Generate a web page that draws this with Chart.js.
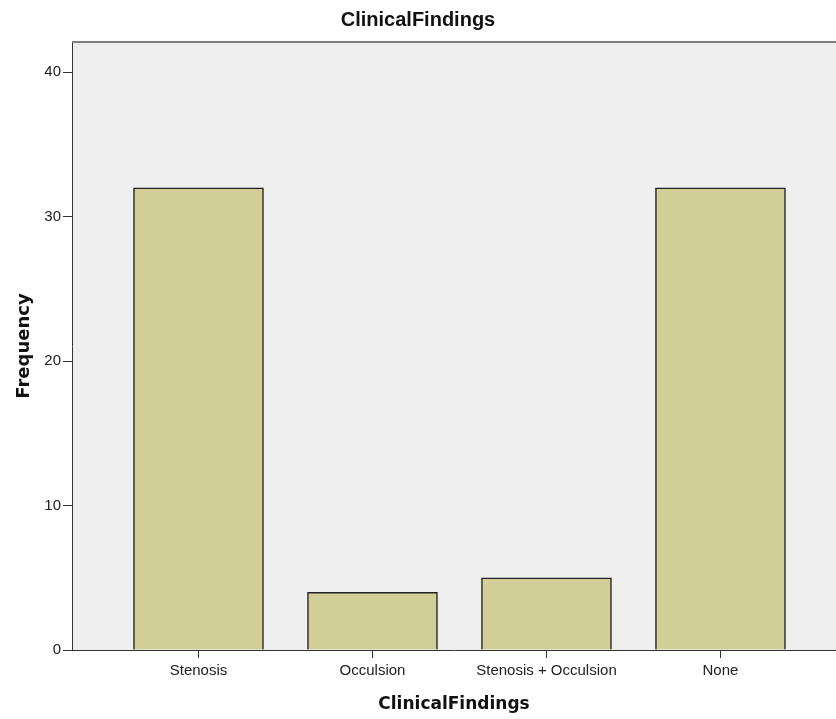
<!DOCTYPE html>
<html>
<head>
<meta charset="utf-8">
<script src="https://cdn.jsdelivr.net/npm/chart.js@4.4.1/dist/chart.umd.min.js"></script>
<style>
  body { margin: 0; background: #fff; }
  #wrap { width: 836px; height: 719px; }
</style>
</head>
<body>
<div id="wrap"><canvas id="findingsChart"></canvas></div>
<script>
const categories = ['Stenosis', 'Occulsion', 'Stenosis + Occulsion', 'None'];
const frequencies = [32, 4, 5, 32];
const yTicks = [0, 10, 20, 30, 40];

const plotFrame = {
  id: 'plotFrame',
  beforeDraw(chart) {
    const { ctx, chartArea: a } = chart;
    ctx.save();
    ctx.fillStyle = '#efefef';
    ctx.fillRect(a.left, a.top, a.right - a.left, a.bottom - a.top);
    ctx.restore();
  },
  afterDraw(chart) {
    const { ctx, chartArea: a } = chart;
    ctx.save();
    ctx.strokeStyle = '#7f7f7f';
    ctx.lineWidth = 2;
    ctx.beginPath();
    ctx.moveTo(a.left, a.top);
    ctx.lineTo(a.right, a.top);
    ctx.stroke();
    ctx.restore();
  }
};

const ctx = document.getElementById('findingsChart').getContext('2d');
new Chart(ctx, {
  type: 'bar',
  data: {
    datasets: [{
      data: categories.map((c, i) => ({ x: i, y: frequencies[i] })),
      backgroundColor: '#d2ce97',
      borderColor: '#222222',
      borderWidth: 1.5,
      barThickness: 130
    }]
  },
  options: {
    responsive: true,
    maintainAspectRatio: false,
    animation: false,
    layout: { padding: 0 },
    plugins: {
      legend: { display: false },
      tooltip: { enabled: false },
      title: {
        display: true,
        text: 'ClinicalFindings',
        color: '#111',
        font: { family: 'Liberation Sans', size: 20, weight: 'bold' },
        padding: { top: 8, bottom: 10 }
      }
    },
    scales: {
      x: {
        type: 'linear',
        offset: false,
        min: -0.727,
        max: 3.664,
        afterBuildTicks: (scale) => {
          scale.ticks = categories.map((c, i) => ({ value: i }));
        },
        afterFit: (scale) => { scale.height = 69; },
        ticks: {
          autoSkip: false,
          maxRotation: 0,
          padding: 4,
          color: '#222',
          font: { family: 'Liberation Sans', size: 15 },
          callback: (v) => categories[v]
        },
        grid: { offset: false, drawOnChartArea: false, drawTicks: true, tickLength: 8, tickColor: '#333' },
        border: { display: true, color: '#333', width: 1 },
        title: {
          display: true,
          text: 'ClinicalFindings',
          color: '#111',
          font: { family: 'DejaVu Sans', size: 17, weight: 'bold' },
          padding: { top: 0, bottom: 4 }
        }
      },
      y: {
        min: 0,
        max: 42.1,
        afterBuildTicks: (scale) => {
          scale.ticks = yTicks.map((v) => ({ value: v }));
        },
        afterFit: (scale) => { scale.width = 72; },
        ticks: {
          padding: 2,
          color: '#222',
          font: { family: 'Liberation Sans', size: 15 }
        },
        grid: { drawOnChartArea: false, drawTicks: true, tickLength: 9, tickColor: '#333' },
        border: { display: true, color: '#333', width: 1 },
        title: {
          display: true,
          text: 'Frequency',
          color: '#111',
          font: { family: 'DejaVu Sans', size: 18, weight: 'bold' },
          padding: { top: 14, bottom: 0 }
        }
      }
    }
  },
  plugins: [plotFrame]
});
</script>
</body>
</html>
